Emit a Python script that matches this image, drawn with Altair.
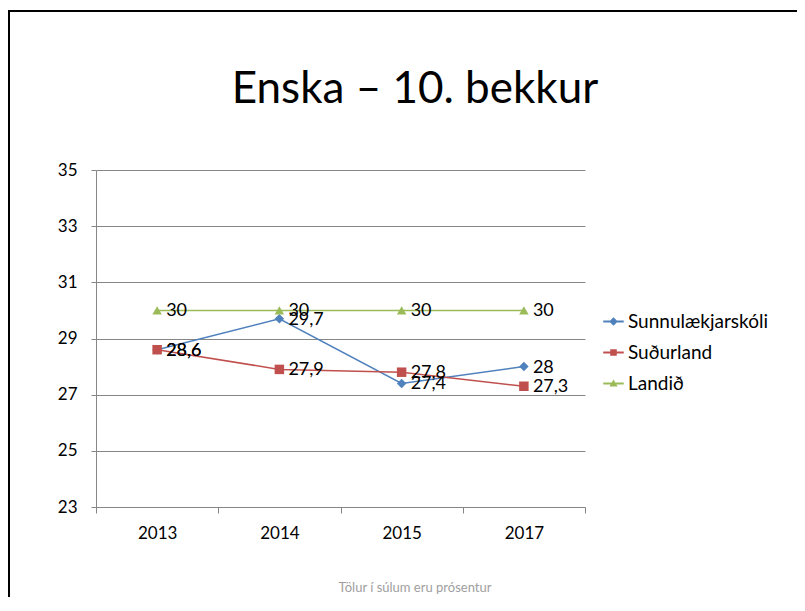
import altair as alt
import pandas as pd

years = ["2013", "2014", "2015", "2017"]
series_names = ["Sunnulækjarskóli", "Suðurland", "Landið"]
sunnulaekjarskoli = [28.6, 29.7, 27.4, 28.0]
sudurland = [28.6, 27.9, 27.8, 27.3]
landid = [30.0, 30.0, 30.0, 30.0]
y_ticks = [23, 25, 27, 29, 31, 33, 35]
title_text = "Enska – 10. bekkur"
footer_text = "Tölur í súlum eru prósentur"

colors = ["#4F81BD", "#C0504D", "#9BBB59"]
shapes = ["diamond", "square", "triangle-up"]
legend_paths = [
    "M-1,-0.09H1V0.09H-1Z M0,-0.42L0.42,0L0,0.42L-0.42,0Z",
    "M-1,-0.09H1V0.09H-1Z M-0.32,-0.32H0.32V0.32H-0.32Z",
    "M-1,-0.09H1V0.09H-1Z M0,-0.38L0.4,0.3L-0.4,0.3Z",
]

rows = []
for name, vals in zip(series_names, [sunnulaekjarskoli, sudurland, landid]):
    for yr, v in zip(years, vals):
        rows.append({"year": yr, "series": name, "value": v})
df = pd.DataFrame(rows)

FONT = "Lato"

x_enc = alt.X(
    "year:N",
    sort=years,
    scale=alt.Scale(domain=years, paddingInner=0, paddingOuter=0),
    axis=alt.Axis(
        title=None, tickBand="extent", labelAngle=0, grid=False,
        domainColor="#868686", tickColor="#868686", tickSize=6,
        labelFont=FONT, labelFontSize=17, labelColor="#000000", labelPadding=12,
    ),
)
y_enc = alt.Y(
    "value:Q",
    scale=alt.Scale(domain=[23, 35], nice=False, zero=False),
    axis=alt.Axis(
        title=None, values=y_ticks, grid=True, gridColor="#868686",
        domainColor="#868686", tickColor="#868686", tickSize=5,
        labelFont=FONT, labelFontSize=17, labelColor="#000000", labelPadding=14,
    ),
)
color_enc = alt.Color(
    "series:N",
    scale=alt.Scale(domain=series_names, range=colors),
    legend=alt.Legend(
        title=None, orient="none", legendX=507, legendY=141,
        symbolSize=420, symbolStrokeWidth=0, labelFont=FONT, labelFontSize=19,
        labelColor="#000000", rowPadding=10, labelOffset=4,
    ),
)

base = alt.Chart(df)

lines = base.mark_line(strokeWidth=1.5).encode(x=x_enc, y=y_enc, color=color_enc, detail="series:N")

point_layers = []
for name, shp in zip(series_names, shapes):
    point_layers.append(
        base.transform_filter(alt.datum.series == name)
        .mark_point(shape=shp, filled=True, opacity=1, size=90)
        .encode(x=x_enc, y=y_enc, color=color_enc)
    )

legend_layer = base.transform_filter("false").mark_point(filled=True, opacity=1).encode(
    x=x_enc, y=y_enc, color=color_enc,
    shape=alt.Shape("series:N", scale=alt.Scale(domain=series_names, range=legend_paths)),
)

labels = base.transform_calculate(
    lab="replace(toString(datum.value), '.', ',')"
).mark_text(align="left", baseline="middle", dx=9, dy=1, font=FONT, fontSize=18, color="#000000").encode(
    x=x_enc, y=y_enc, text="lab:N"
)

title = alt.Chart(pd.DataFrame({"t": [title_text]})).mark_text(
    font=FONT, fontSize=44, color="#000000", align="center", baseline="middle"
).encode(text="t:N", x=alt.value(319), y=alt.value(-80))

footer = alt.Chart(pd.DataFrame({"t": [footer_text]})).mark_text(
    font=FONT, fontSize=13, color="#a0a0a0", align="center", baseline="middle"
).encode(text="t:N", x=alt.value(319), y=alt.value(418))

top_border = alt.Chart(pd.DataFrame({"a": [0]})).mark_rule(color="#000000", strokeWidth=2).encode(
    x=alt.value(-89), x2=alt.value(709), y=alt.value(-159)
)
left_border = alt.Chart(pd.DataFrame({"a": [0]})).mark_rule(color="#000000", strokeWidth=2).encode(
    x=alt.value(-87), y=alt.value(-159), y2=alt.value(441)
)

chart = alt.layer(
    lines, *point_layers, legend_layer, labels, title, footer, top_border, left_border
).properties(
    width=489, height=337,
    autosize=alt.AutoSizeParams(type="none"),
    padding={"left": 88, "top": 162, "right": 212, "bottom": 90},
).configure_view(stroke=None)

chart.save("out.html", embed_options={"renderer": "svg", "actions": False})
